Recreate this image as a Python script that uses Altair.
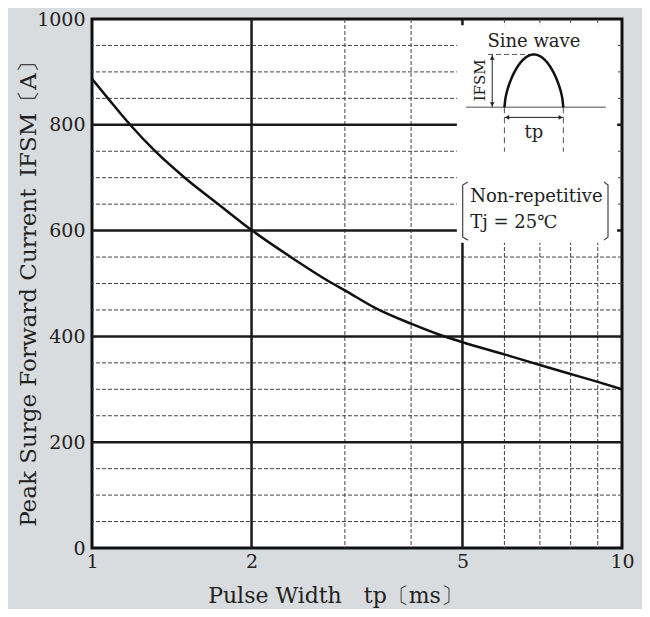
import altair as alt
import pandas as pd
import numpy as np

# ---- data ----
TP = [1, 1.072, 1.178, 1.313, 1.5, 1.731, 2, 2.364, 2.833, 3, 3.42, 4, 4.5, 5, 6, 7, 8, 9, 10]
IFSM = [887, 850, 801, 751, 699, 650, 601, 551, 501, 487, 454, 424, 404, 389, 366, 346, 329, 314, 300]

X_TICKS = [1, 2, 5, 10]
Y_TICKS = [0, 200, 400, 600, 800, 1000]
X_MAJOR = [2, 5]
X_MINOR = [3, 4, 6, 7, 8, 9]
Y_MAJOR = [200, 400, 600, 800]
Y_MINOR = [50, 100, 150, 250, 300, 350, 450, 500, 550, 650, 700, 750, 850, 900, 950]

FONT = "DejaVu Serif"
TXT = "#222222"

# ---- inset layout (in data units of the main chart) ----
BOX = dict(x=4.88, x2=9.79, y=577, y2=988)
SINE_X = [6.0, 7.75]
SINE_BASE, SINE_PEAK = 833, 933
BASELINE = dict(x=5.08, x2=9.32, y=833)
PEAK_DASH = dict(x=5.587, x2=6.82, y=933)
VARROW = dict(x=5.69, y=833, y2=933)
HARROW = dict(x=6.0, x2=7.75, y=814)
VDASH = dict(x=[6.0, 7.75], y=833, y2=749)

x_scale = alt.Scale(type="log", domain=[1, 10])
y_scale = alt.Scale(domain=[0, 1000])

x_axis = alt.Axis(values=X_TICKS, grid=False, domain=False, ticks=False,
                  labelFont=FONT, labelFontSize=19, labelColor=TXT, labelFlush=False,
                  labelOverlap=False, labelPadding=4, format="~g",
                  title="Pulse Width\u2003tp〔ms〕", titleFont=FONT, titleFontSize=22,
                  titleFontWeight="normal", titleColor=TXT, titlePadding=14,
                  titleX=243, titleAlign="center")
y_axis = alt.Axis(values=Y_TICKS, grid=False, domain=False, ticks=False,
                  labelFont=FONT, labelFontSize=19, labelColor=TXT, labelPadding=7,
                  labelFlush=False, labelOverlap=False, format="d",
                  title="Peak Surge Forward Current\u2002IFSM〔A〕", titleFont=FONT,
                  titleFontSize=23, titleFontWeight="normal", titleColor=TXT,
                  titleX=-64, titleY=269, titleAlign="center", titleBaseline="middle",
                  titleAngle=270)


def X(field="x"):
    return alt.X(f"{field}:Q", scale=x_scale, axis=x_axis)


def Y(field="y"):
    return alt.Y(f"{field}:Q", scale=y_scale, axis=y_axis)


curve_df = pd.DataFrame({"x": TP, "y": IFSM})

hmaj = alt.Chart(pd.DataFrame({"y": Y_MAJOR})).mark_rule(color="#1a1a1a", strokeWidth=2.5).encode(y=Y())
hmin = alt.Chart(pd.DataFrame({"y": Y_MINOR})).mark_rule(color="#444444", strokeWidth=1, strokeDash=[4, 2]).encode(y=Y())
vmaj = alt.Chart(pd.DataFrame({"x": X_MAJOR})).mark_rule(color="#1a1a1a", strokeWidth=2.5).encode(x=X())
vmin = alt.Chart(pd.DataFrame({"x": X_MINOR})).mark_rule(color="#444444", strokeWidth=1, strokeDash=[4, 2]).encode(x=X())

box = alt.Chart(pd.DataFrame([BOX])).mark_rect(color="white").encode(
    x=X(), x2="x2:Q", y=Y(), y2="y2:Q")

curve = alt.Chart(curve_df).mark_line(color="#111111", strokeWidth=2.5, interpolate="monotone").encode(
    x=X(), y=Y())

# sine-wave icon (decorative half wave)
t = np.linspace(0, 1, 61)
lx0, lx1 = np.log10(SINE_X[0]), np.log10(SINE_X[1])
sine_df = pd.DataFrame({"x": 10 ** (lx0 + t * (lx1 - lx0)),
                        "y": SINE_BASE + (SINE_PEAK - SINE_BASE) * np.sin(np.pi * t) ** 0.6,
                        "o": np.arange(len(t))})
sine = alt.Chart(sine_df).mark_line(color="#111111", strokeWidth=2.5).encode(
    x=X(), y=Y(), order="o:Q")

baseline = alt.Chart(pd.DataFrame([BASELINE])).mark_rule(color="#888888", strokeWidth=1.5).encode(
    x=X(), x2="x2:Q", y=Y())
peakdash = alt.Chart(pd.DataFrame([PEAK_DASH])).mark_rule(color="#555555", strokeWidth=1, strokeDash=[5, 3]).encode(
    x=X(), x2="x2:Q", y=Y())
varrow = alt.Chart(pd.DataFrame([VARROW])).mark_rule(color="#222222", strokeWidth=1).encode(
    x=X(), y=Y(), y2="y2:Q")
harrow = alt.Chart(pd.DataFrame([HARROW])).mark_rule(color="#222222", strokeWidth=1).encode(
    x=X(), x2="x2:Q", y=Y())
vdash = alt.Chart(pd.DataFrame({"x": VDASH["x"], "y": [VDASH["y"]] * 2, "y2": [VDASH["y2"]] * 2})).mark_rule(
    color="#555555", strokeWidth=1, strokeDash=[6, 4]).encode(x=X(), y=Y(), y2="y2:Q")

heads_df = pd.DataFrame({
    "x": [VARROW["x"], VARROW["x"], HARROW["x"] * 1.012, HARROW["x2"] / 1.012],
    "y": [VARROW["y2"] - 6, VARROW["y"] + 6, HARROW["y"], HARROW["y"]],
    "shape": ["triangle-up", "triangle-down", "triangle-left", "triangle-right"],
})
heads = alt.Chart(heads_df).mark_point(filled=True, color="#222222", size=22, opacity=1).encode(
    x=X(), y=Y(), shape=alt.Shape("shape:N", scale=None, legend=None))

texts_df = pd.DataFrame({
    "x": [6.82, 6.82],
    "y": [956, 784],
    "t": ["Sine wave", "tp"],
})
texts = alt.Chart(texts_df).mark_text(font=FONT, fontSize=18, color=TXT, align="center", baseline="middle").encode(
    x=X(), y=Y(), text="t:N")

ifsm = alt.Chart(pd.DataFrame({"x": [5.40], "y": [884], "t": ["IFSM"]})).mark_text(
    font=FONT, fontSize=15, color=TXT, angle=270, align="center", baseline="middle").encode(
    x=X(), y=Y(), text="t:N")

cond_df = pd.DataFrame({"x": [5.17, 5.17], "y": [664, 614], "t": ["Non-repetitive", "Tj = 25℃"]})
cond = alt.Chart(cond_df).mark_text(font=FONT, fontSize=18, color=TXT, align="left", baseline="middle").encode(
    x=X(), y=Y(), text="t:N")

br_df = pd.DataFrame({
    "x": [5.12, 5.005, 5.005, 5.12, 9.25, 9.41, 9.41, 9.25],
    "y": [692, 686, 588, 582, 692, 686, 588, 582],
    "g": ["l"] * 4 + ["r"] * 4,
    "o": [0, 1, 2, 3, 0, 1, 2, 3],
})
brackets = alt.Chart(br_df).mark_line(color="#444444", strokeWidth=1.2).encode(
    x=X(), y=Y(), detail="g:N", order="o:Q")

chart = alt.layer(
    hmin, vmin, hmaj, vmaj, box, curve,
    baseline, peakdash, varrow, harrow, vdash, heads, sine, texts, ifsm, cond, brackets,
).properties(
    width=530, height=529,
    padding={"left": 84, "top": 11, "right": 20, "bottom": 61},
    autosize=alt.AutoSizeParams(type="none"),
    background="#d9dcdf",
).configure_view(
    fill="white", stroke="#111111", strokeWidth=3,
)

chart.save("out.html", embed_options={"renderer": "svg", "actions": False})
